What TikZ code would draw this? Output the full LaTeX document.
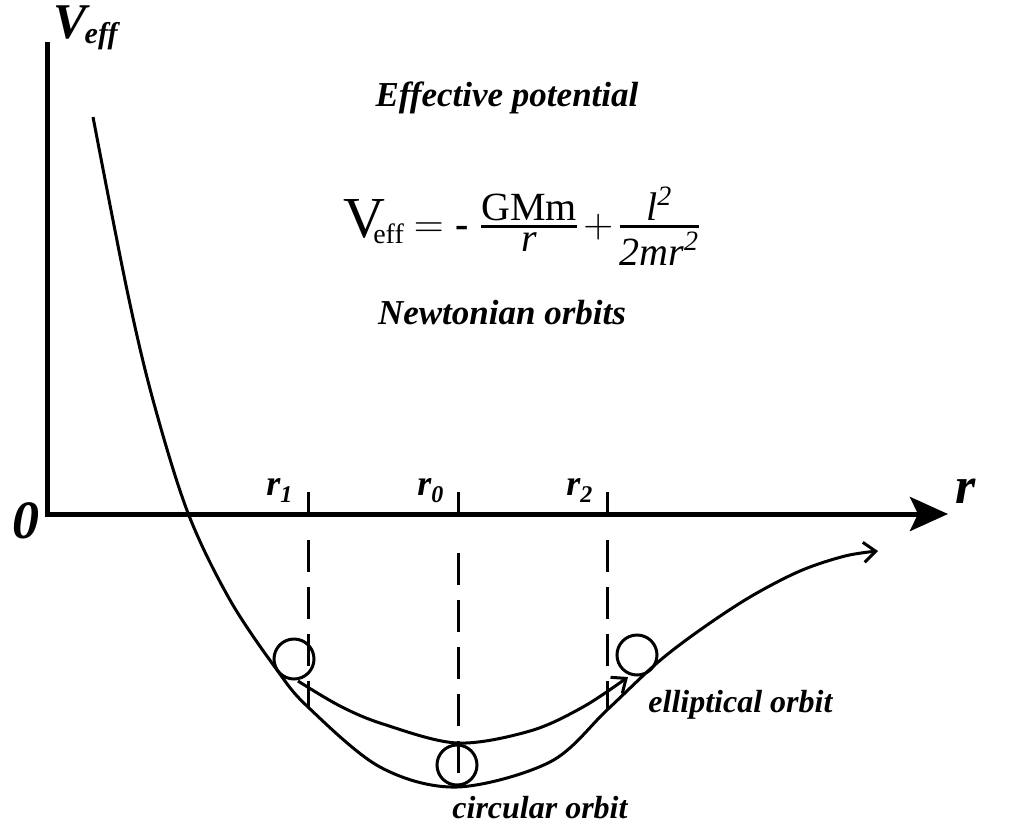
\documentclass[tikz,border=0pt]{standalone}
\usepackage{amsmath}
\usepackage{fontspec}
\setmainfont{Liberation Serif}
\usepackage{tikz}
\usetikzlibrary{arrows.meta,positioning,calc}
\newcommand{\rsub}[1]{\raisebox{-3.5pt}{\fontsize{12}{14}\selectfont #1}}
\newcommand{\eqfrac}[2]{$\genfrac{}{}{1.8pt}{1}{\hbox{#1}}{\hbox{#2}}$}

\begin{document}
\begin{tikzpicture}[x=0.5pt,y=-0.5pt,
  axisline/.style={line width=2.5pt,line join=miter},
  curve/.style={line width=1.5pt},
  guide/.style={line width=1.5pt,dash pattern=on 16pt off 7.5pt},
  tick/.style={line width=1.5pt},
  ball/.style={circle,draw,line width=1.5pt,minimum size=20pt,inner sep=0pt},
  rlab/.style={font=\bfseries\itshape\fontsize{18}{20}\selectfont,inner sep=0pt,anchor=base west},
  bigital/.style={font=\bfseries\itshape\fontsize{17.5}{20}\selectfont,inner sep=0pt,anchor=base},
  orbitlab/.style={font=\bfseries\itshape\fontsize{16}{18}\selectfont,inner sep=0pt,anchor=base west}]
\useasboundingbox (0,0) rectangle (1009,832);
\tikzstyle{every node}+=[inner sep=0pt]
\coordinate (top) at (47,42);
\coordinate (O) at (47,514);
\coordinate (rend) at (948,514);
\draw [axisline,-{Stealth[length=19pt,width=17pt,inset=4pt]}] (top) -- (O) -- (rend);
\node [anchor=base west,font=\bfseries\itshape\fontsize{25}{28}\selectfont] (vlab) at (53,38)
  {V\kern-1pt\raisebox{-2.5pt}{\fontsize{15}{16}\selectfont eff}};
\node [anchor=base west,font=\bfseries\itshape\fontsize{27}{30}\selectfont] (zero) at (12,538) {0};
\node [anchor=base west,font=\bfseries\itshape\fontsize{26}{28}\selectfont] (rlabel) at (955,503) {r};
\node [bigital] (title) at (507,106) {Effective potential};
\node [anchor=base west,font=\fontsize{20}{24}\selectfont] (eq) at (343,237)
  {{\fontsize{29}{30}\selectfont V}\kern-6pt\raisebox{-3pt}{\fontsize{14}{16}\selectfont eff}\kern5pt$=$\kern6pt\textbf{-}\kern5pt\eqfrac{GMm}{\itshape r}\kern2pt$+$\kern2pt\eqfrac{\itshape l\textsuperscript{2}}{\itshape 2mr\textsuperscript{2}}};
\node [bigital] (newt) at (502,324) {Newtonian orbits};
% tick marks and guides
\coordinate (t1) at (308,514);
\coordinate (t0) at (458,514);
\coordinate (t2) at (607,514);
\draw [tick] (308,492) -- (t1);
\draw [tick] (458,492) -- (t0);
\draw [tick] (607,492) -- (t2);
\node [rlab] (r1) at (266,495) {r\rsub{1}};
\node [rlab] (r0) at (417,495) {r\rsub{0}};
\node [rlab] (r2) at (566,495) {r\rsub{2}};
\coordinate (g1a) at (308,540);
\coordinate (g1b) at (308,707);
\coordinate (g0a) at (458,538);
\coordinate (g0b) at (458,773);
\coordinate (g2a) at (607,540);
\coordinate (g2b) at (607,709);
\draw [guide] (g1a) -- (g1b);
\draw [guide] (g0b) -- (g0a);
\draw [guide] (g2a) -- (g2b);
% potential curve
\draw [curve,-{Straight Barb[length=6pt,width=10pt]}] plot [smooth,tension=0.55] coordinates
  {(93,117) (127,290) (153,400) (188,513) (230,600) (277,670) (308,707) (380,767)
   (457,787) (550,762) (607,710) (657,663) (700,630) (750,597) (800,571) (845,556) (878,551)};
% elliptical orbit
\draw [curve,-{Straight Barb[length=6pt,width=10pt]}] plot [smooth,tension=0.55] coordinates
  {(298,681) (340,706) (383,724) (457,743) (530,731) (583,707) (628,677)};
\node [ball] (b1) at (294,659) {};
\node [ball] (b0) at (457,765) {};
\node [ball] (b2) at (637,655) {};
\node [orbitlab] (ell) at (648,712) {elliptical orbit};
\node [orbitlab] (circ) at (452,818) {circular orbit};
\end{tikzpicture}
\end{document}
